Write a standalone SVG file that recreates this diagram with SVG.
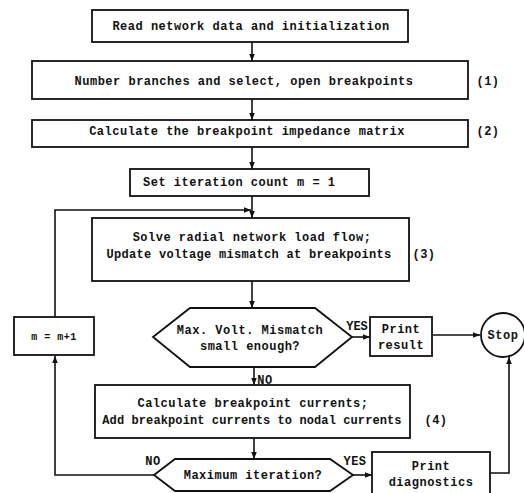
<svg xmlns="http://www.w3.org/2000/svg" width="524" height="493" viewBox="0 0 524 493">
<style>
.b{fill:#fff;stroke:#111;stroke-width:1.8}
.c{fill:none;stroke:#111;stroke-width:1.6}
text{font-family:"Liberation Mono","DejaVu Sans Mono",monospace;font-weight:bold;font-size:12px;letter-spacing:0.5px;fill:#111}
.m{text-anchor:middle}
</style>
<defs>
<marker id="a" viewBox="0 0 10 10" refX="10" refY="5" markerWidth="7" markerHeight="7" markerUnits="userSpaceOnUse" orient="auto">
<path d="M0,1 L10,5 L0,9 Z" fill="#111"/>
</marker>
</defs>
<rect width="524" height="493" fill="#fff"/>
<g id="connectors">
<path class="c" d="M252,42 V61" marker-end="url(#a)"/>
<path class="c" d="M252,99 V120" marker-end="url(#a)"/>
<path class="c" d="M252,147 V169" marker-end="url(#a)"/>
<path class="c" d="M252,196 V218" marker-end="url(#a)"/>
<path class="c" d="M55,317 V210 H251" marker-end="url(#a)"/>
<path class="c" d="M252,281 V308" marker-end="url(#a)"/>
<path class="c" d="M352,337 H370" marker-end="url(#a)"/>
<path class="c" d="M432,335 H480" marker-end="url(#a)"/>
<path class="c" d="M254,367 V385" marker-end="url(#a)"/>
<path class="c" d="M254,438 V459" marker-end="url(#a)"/>
<path class="c" d="M154,475 H55 V356" marker-end="url(#a)"/>
<path class="c" d="M353,475 H372" marker-end="url(#a)"/>
<path class="c" d="M490,473 H509 V357" marker-end="url(#a)"/>
<text x="265" y="384" class="m">NO</text>
<text x="357" y="330" class="m" style="letter-spacing:0">YES</text>
<text x="153" y="465" class="m">NO</text>
<text x="355" y="465" class="m">YES</text>
</g>
<g id="n1"><rect class="b" x="92" y="10" width="316" height="32"/><text x="251" y="30" class="m">Read network data and initialization</text></g>
<g id="n2"><rect class="b" x="32" y="61" width="436" height="38"/><text x="244" y="85" class="m">Number branches and select, open breakpoints</text><text x="488" y="85" class="m">(1)</text></g>
<g id="n3"><rect class="b" x="32" y="120" width="436" height="27"/><text x="247" y="135" class="m">Calculate the breakpoint impedance matrix</text><text x="488" y="135" class="m">(2)</text></g>
<g id="n4"><rect class="b" x="130" y="169" width="239" height="27"/><text x="143" y="186">Set iteration count m = 1</text></g>
<g id="n5"><rect class="b" x="92" y="218" width="317" height="63"/><text x="252" y="241" class="m">Solve radial network load flow;</text><text x="249" y="258" class="m" style="letter-spacing:0.3px">Update voltage mismatch at breakpoints</text><text x="424" y="258" class="m">(3)</text></g>
<g id="n6"><polygon class="b" points="153,337 190,308 315,308 352,337 315,367 190,367"/><text x="250" y="334" class="m">Max. Volt. Mismatch</text><text x="250" y="350" class="m">small enough?</text></g>
<g id="n7"><rect class="b" x="370" y="317" width="62" height="39"/><text x="401" y="333" class="m">Print</text><text x="401" y="349" class="m">result</text></g>
<g id="n8"><circle class="b" cx="503" cy="335" r="22"/><text x="503" y="339" class="m">Stop</text></g>
<g id="n9"><rect class="b" x="14" y="317" width="80" height="38"/><text x="54" y="340" class="m" style="font-size:10px">m = m+1</text></g>
<g id="n10"><rect class="b" x="95" y="385" width="315" height="53"/><text x="253" y="407" class="m">Calculate breakpoint currents;</text><text x="252" y="424" class="m" style="letter-spacing:0.1px">Add breakpoint currents to nodal currents</text><text x="436" y="424" class="m">(4)</text></g>
<g id="n11"><polygon class="b" points="154,475 175,459 330,459 353,475 330,491 175,491"/><text x="253" y="479" class="m">Maximum iteration?</text></g>
<g id="n12"><rect class="b" x="372" y="452" width="118" height="45"/><text x="431" y="470" class="m">Print</text><text x="431" y="486" class="m">diagnostics</text></g>
</svg>
